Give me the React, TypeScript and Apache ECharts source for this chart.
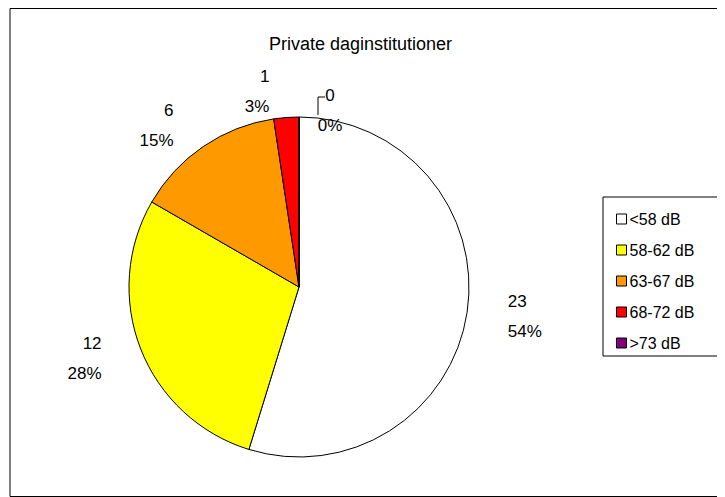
import { useEffect, useRef } from 'react'
import * as echarts from 'echarts'

const categories = ['<58 dB', '58-62 dB', '63-67 dB', '68-72 dB', '>73 dB']
const values = [23, 12, 6, 1, 0]
const percentLabels = ['54%', '28%', '15%', '3%', '0%']
const colors = ['#FFFFFF', '#FFFF00', '#FF9900', '#FF0000', '#800080']

const App = () => {
  const ref = useRef<HTMLDivElement>(null)

  useEffect(() => {
    if (!ref.current) return
    const chart = echarts.init(ref.current, null, { renderer: 'svg' })
    chart.setOption({
      animation: false,
      textStyle: { fontFamily: 'Liberation Sans, Arial', color: '#000' },
      title: {
        text: 'Private daginstitutioner',
        left: 256,
        top: 22,
        textStyle: { fontSize: 18, fontWeight: 'normal', color: '#000' }
      },
      graphic: [
        { type: 'rect', shape: { x: 2, y: 0.5, width: 714, height: 488 }, style: { fill: 'none', stroke: '#000', lineWidth: 1 } },
        { type: 'rect', shape: { x: 595, y: 189, width: 120, height: 159 }, style: { fill: '#fff', stroke: '#000', lineWidth: 1 } },
        // label for the zero slice, which the pie does not place itself
        { type: 'polyline', z: 100, shape: { points: [[317, 89], [310, 89], [310, 107]] }, style: { stroke: '#000', fill: 'none', lineWidth: 1 } },
        { type: 'text', z: 100, x: 322, y: 72, style: { text: `${values[4]}\n${percentLabels[4]}`, fontSize: 17, lineHeight: 30, fill: '#000', align: 'center', fontFamily: 'Liberation Sans, Arial' } }
      ],
      legend: {
        orient: 'vertical',
        left: 603,
        top: 198,
        itemWidth: 10,
        itemHeight: 10,
        itemGap: 15,
        icon: 'rect',
        textStyle: { fontSize: 16, color: '#000', padding: [0, 0, 0, -2] },
        itemStyle: { borderColor: '#000', borderWidth: 1 },
        data: categories
      },
      series: [{
        type: 'pie',
        center: [291, 279],
        radius: 170,
        startAngle: 90,
        clockwise: true,
        avoidLabelOverlap: false,
        itemStyle: { borderColor: '#000', borderWidth: 1 },
        label: {
          position: 'outside',
          fontSize: 17,
          lineHeight: 30,
          color: '#000',
          align: 'center',
          formatter: (p: { dataIndex: number; value: number }) =>
            p.value === 0 ? '' : `${p.value}\n${percentLabels[p.dataIndex]}`
        },
        labelLine: { show: false, length: 26, length2: 10 },
        data: categories.map((name, i) => ({ name, value: values[i], itemStyle: { color: colors[i] } }))
      }]
    })
    return () => chart.dispose()
  }, [])

  return <div ref={ref} style={{ width: 717, height: 489 }} />
}

export default App
